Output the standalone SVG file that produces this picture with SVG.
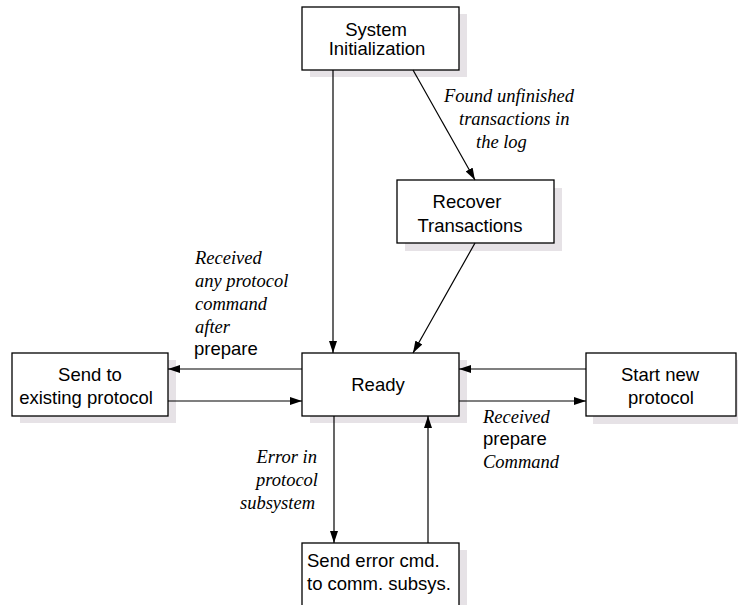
<svg xmlns="http://www.w3.org/2000/svg" width="738" height="605" viewBox="0 0 738 605">
  <style>
    .box { fill: #ffffff; stroke: #000000; stroke-width: 1.3; }
    .shadow { fill: #e6e2e6; stroke: none; }
    .node { font-family: "Liberation Sans", Arial, sans-serif; font-size: 18.5px; fill: #000000; }
    .lbl { font-family: "Liberation Serif", "Times New Roman", serif; font-size: 18.5px; font-style: italic; fill: #000000; }
    .lbl-up { font-family: "Liberation Sans", Arial, sans-serif; font-size: 18.5px; fill: #000000; }
    .conn { stroke: #000000; stroke-width: 1.2; fill: none; marker-end: url(#arrow); }
  </style>
  <defs>
    <marker id="arrow" viewBox="0 0 12 8" refX="12" refY="4" markerWidth="12" markerHeight="8" markerUnits="userSpaceOnUse" orient="auto">
      <path d="M0,0 L12,4 L0,8 Z" fill="#000000"/>
    </marker>
  </defs>
  <rect width="738" height="605" fill="#ffffff"/>

  <!-- state boxes -->
  <g id="system-init">
    <rect class="shadow" x="310" y="14" width="157" height="63"/>
    <rect class="box" x="302" y="7" width="157" height="63"/>
    <text class="node" x="376" y="36" text-anchor="middle">System</text>
    <text class="node" x="377" y="55" text-anchor="middle">Initialization</text>
  </g>

  <g id="recover">
    <rect class="shadow" x="405" y="188" width="157" height="63"/>
    <rect class="box" x="397" y="180" width="157" height="63"/>
    <text class="node" x="467" y="208" text-anchor="middle">Recover</text>
    <text class="node" x="470" y="232" text-anchor="middle">Transactions</text>
  </g>

  <g id="ready">
    <rect class="shadow" x="310" y="360" width="157" height="63"/>
    <rect class="box" x="302" y="353" width="157" height="63"/>
    <text class="node" x="378" y="391" text-anchor="middle">Ready</text>
  </g>

  <g id="send-existing">
    <rect class="shadow" x="20" y="360" width="156" height="63"/>
    <rect class="box" x="12" y="353" width="156" height="63"/>
    <text class="node" x="90" y="381" text-anchor="middle">Send to</text>
    <text class="node" x="86" y="404" text-anchor="middle">existing protocol</text>
  </g>

  <g id="start-new">
    <rect class="shadow" x="593" y="360" width="150" height="64"/>
    <rect class="box" x="586" y="353" width="150" height="63"/>
    <text class="node" x="660" y="381" text-anchor="middle">Start new</text>
    <text class="node" x="661" y="404" text-anchor="middle">protocol</text>
  </g>

  <g id="send-error">
    <rect class="shadow" x="310" y="550" width="157" height="70"/>
    <rect class="box" x="302" y="543" width="157" height="75"/>
    <text class="node" x="307" y="567">Send error cmd.</text>
    <text class="node" x="307" y="590">to comm. subsys.</text>
  </g>

  <!-- transitions -->
  <g id="connectors">
    <line class="conn" x1="333" y1="70" x2="333" y2="353"/>
    <line class="conn" x1="413" y1="70" x2="475" y2="180"/>
    <line class="conn" x1="475" y1="243" x2="413" y2="353"/>
    <line class="conn" x1="302" y1="369" x2="168" y2="369"/>
    <line class="conn" x1="168" y1="401" x2="302" y2="401"/>
    <line class="conn" x1="586" y1="369" x2="459" y2="369"/>
    <line class="conn" x1="459" y1="401" x2="586" y2="401"/>
    <line class="conn" x1="334" y1="416" x2="334" y2="543"/>
    <line class="conn" x1="428" y1="543" x2="428" y2="416"/>
  </g>

  <!-- transition labels -->
  <g id="labels">
    <text class="lbl" x="444" y="102">Found unfinished</text>
    <text class="lbl" x="459" y="125">transactions in</text>
    <text class="lbl" x="476" y="148">the log</text>

    <text class="lbl" x="195" y="264">Received</text>
    <text class="lbl" x="195" y="287">any protocol</text>
    <text class="lbl" x="195" y="310">command</text>
    <text class="lbl" x="195" y="333">after</text>
    <text class="lbl-up" x="194" y="355">prepare</text>

    <text class="lbl" x="483" y="423">Received</text>
    <text class="lbl-up" x="483" y="445">prepare</text>
    <text class="lbl" x="483" y="468">Command</text>

    <text class="lbl" x="317" y="463" text-anchor="end">Error in</text>
    <text class="lbl" x="318" y="486" text-anchor="end">protocol</text>
    <text class="lbl" x="315" y="509" text-anchor="end">subsystem</text>
  </g>
</svg>
